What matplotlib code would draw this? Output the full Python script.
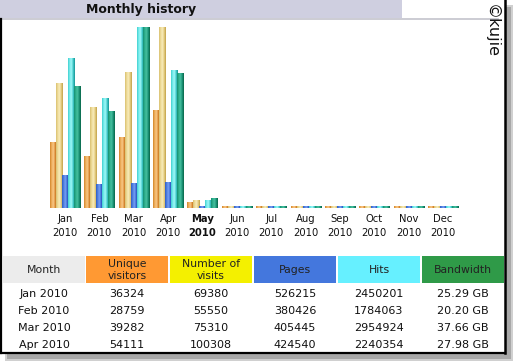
import matplotlib
matplotlib.use("Agg")
import matplotlib.pyplot as plt
import numpy as np
from matplotlib.colors import LinearSegmentedColormap
from matplotlib.patches import Rectangle

# ---------------- data ----------------
months = ["Jan", "Feb", "Mar", "Apr", "May", "Jun", "Jul", "Aug", "Sep", "Oct", "Nov", "Dec"]
year = "2010"
current_month = "May"
visitors = [36324, 28759, 39282, 54111, 3300, 0, 0, 0, 0, 0, 0, 0]
visits = [69380, 55550, 75310, 100308, 4300, 0, 0, 0, 0, 0, 0, 0]
pages = [526215, 380426, 405445, 424540, 32000, 0, 0, 0, 0, 0, 0, 0]
hits = [2450201, 1784063, 2954924, 2240354, 126000, 0, 0, 0, 0, 0, 0, 0]
bandwidth_gb = [25.29, 20.20, 37.66, 27.98, 2.08, 0, 0, 0, 0, 0, 0, 0]
table_rows = 4
headers = ["Month", "Unique\nvisitors", "Number of\nvisits", "Pages", "Hits", "Bandwidth"]
header_colors = ["#ececec", "#ff9933", "#f4f000", "#4477dd", "#66f0ff", "#2f9a48"]
title = "Monthly history"
credit = "©kujie"

W, H = 514, 363
fig = plt.figure(figsize=(W / 100, H / 100), dpi=100)
fig.patch.set_facecolor("white")

# background / decoration axes in pixel coordinates
bg = fig.add_axes([0, 0, 1, 1])
bg.set_xlim(0, W)
bg.set_ylim(H, 0)
bg.axis("off")

# shadow
bg.add_patch(Rectangle((5, 5), 508, 356, facecolor="#d0d0d0", edgecolor="none", zorder=0))
bg.add_patch(Rectangle((7, 7), 504, 352, facecolor="#a8a8a8", edgecolor="none", zorder=0))
# white panel
bg.add_patch(Rectangle((0, 0), 505, 353, facecolor="white", edgecolor="none", zorder=1))
# black frame lines
bg.plot([0.8, 0.8], [19, 353], color="black", lw=1.6, zorder=5)
bg.plot([0, 505], [352.5, 352.5], color="black", lw=1.6, zorder=5)
bg.plot([505, 505], [0, 353], color="black", lw=1.8, zorder=5)
# title bar
bg.add_patch(Rectangle((0, 0), 402, 18, facecolor="#cfcfe0", edgecolor="none", zorder=2))
bg.plot([0, 498], [18.5, 18.5], color="#c4c4cc", lw=1.2, zorder=2)
bg.text(141, 10, title, ha="center", va="center", fontsize=9, fontweight="bold",
        color="#111111", zorder=3)
bg.text(491, 4, credit, ha="center", va="top", rotation=-90, fontsize=11.5,
        color="#111111", zorder=3)

# ---------------- bar chart ----------------
base_px, full_px = 207.7, 181.0
x_left_px = 65 - 34.36 / 2
x_right_px = 443 + 34.36 / 2
ax = fig.add_axes([x_left_px / W, (H - base_px) / H,
                   (x_right_px - x_left_px) / W, full_px / H])
ax.patch.set_alpha(0)
for s in ax.spines.values():
    s.set_visible(False)

max_visits = max(visits)
max_hits = max(hits)
max_bw = max(bandwidth_gb)
series = [
    (np.array(visitors) / max_visits, ["#d08428", "#f0b060", "#f8c888", "#dc8c34", "#a85e10"]),
    (np.array(visits) / max_visits, ["#d8c070", "#efdc98", "#f8ecbc", "#e4cc80", "#c0a048"]),
    (np.array(pages) / max_hits, ["#2c5cc4", "#5080e0", "#78a0f4", "#3868d4", "#1a3890"]),
    (np.array(hits) / max_hits, ["#40d0d0", "#78ecec", "#a0f8f8", "#40c8c8", "#149494"]),
    (np.array(bandwidth_gb) / max_bw, ["#148e72", "#2eb08c", "#48c0a0", "#1a9478", "#086446"]),
]
x = np.arange(len(months))
bw = 6 / 34.36
min_h = 1.5 / full_px
grad = np.linspace(0, 1, 64).reshape(1, -1)
for i, (vals, cols) in enumerate(series):
    heights = np.maximum(vals, min_h)
    bars = ax.bar(x + (i - 2) * bw, heights, width=bw, color=cols[2], edgecolor="none", zorder=2)
    cmap = LinearSegmentedColormap.from_list("g%d" % i, cols)
    for p in bars:
        bx, by = p.get_x(), p.get_y()
        im = ax.imshow(grad, extent=[bx, bx + p.get_width(), by, by + p.get_height()],
                       aspect="auto", cmap=cmap, zorder=3, interpolation="bilinear")
        im.set_clip_path(p)

ax.set_xlim(-0.5, len(months) - 0.5)
ax.set_ylim(0, 1)
ax.set_yticks([])
ax.set_xticks(x)
ax.set_xticklabels([f"{m}\n{year}" for m in months], fontsize=7.2, color="#111111",
                   linespacing=1.45)
ax.tick_params(axis="x", length=0, pad=4.5)
for lab, m in zip(ax.get_xticklabels(), months):
    if m == current_month:
        lab.set_fontweight("bold")

# ---------------- table ----------------
col_left = [3, 86, 170, 254, 338, 422]
col_w = 82
col_centers = [44, 127, 211, 295, 379, 463]
for j, (h, c) in enumerate(zip(headers, header_colors)):
    bg.add_patch(Rectangle((col_left[j], 256), col_w, 27, facecolor=c, edgecolor="none", zorder=2))
    bg.text(col_centers[j], 270, h, ha="center", va="center", fontsize=7.8,
            color="#222222", linespacing=1.25, zorder=3)

row_y0, row_dy = 294, 17
for r in range(table_rows):
    y = row_y0 + r * row_dy
    cells = [f"{months[r]} {year}", str(visitors[r]), str(visits[r]), str(pages[r]),
             str(hits[r]), f"{bandwidth_gb[r]:.2f} GB"]
    for j, t in enumerate(cells):
        bg.text(col_centers[j], y, t, ha="center", va="center", fontsize=8,
                color="#111111", zorder=3)

fig.savefig("out.png", dpi=100)
